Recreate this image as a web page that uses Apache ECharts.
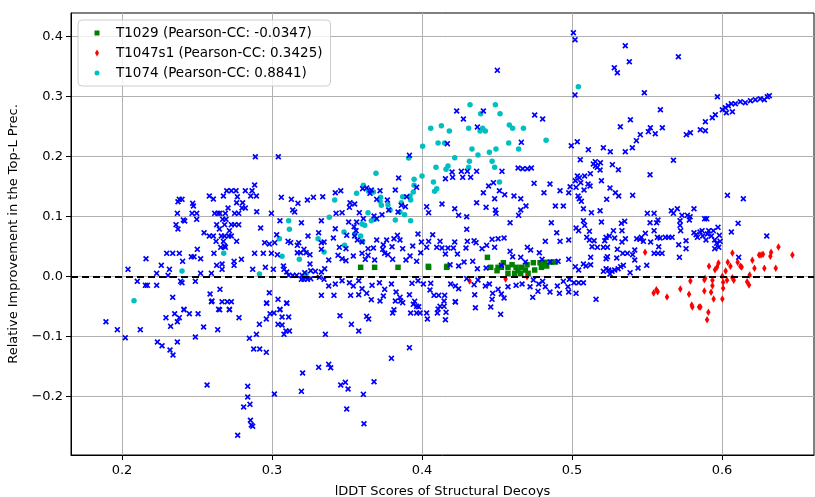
<!DOCTYPE html>
<html>
<head>
<meta charset="utf-8">
<script src="https://cdn.jsdelivr.net/npm/echarts@6/dist/echarts.min.js"></script>
<style>
  html, body { margin: 0; padding: 0; background: #fff; }
  #chart { width: 815px; height: 497px; }
</style>
</head>
<body>
<div id="chart"></div>
<script>
// tick labels
var xTicks = [0.2, 0.3, 0.4, 0.5, 0.6];
var yTicks = [-0.2, -0.1, 0.0, 0.1, 0.2, 0.3, 0.4];

var legendNames = [
  'T1029 (Pearson-CC: -0.0347)',
  'T1047s1 (Pearson-CC: 0.3425)',
  'T1074 (Pearson-CC: 0.8841)'
];

// all other decoys (blue crosses), [lDDT, relative improvement]
var otherDecoys = [
  [0.2884,0.1528],[0.2867,0.1433],[0.2896,0.1344],[0.2858,0.1344],[0.2698,0.1433],[0.2729,0.1433],[0.276,0.1433],
  [0.2822,0.1433],[0.2582,0.1344],[0.2609,0.1294],[0.2676,0.1344],[0.2769,0.1333],[0.2382,0.1289],[0.24,0.1289],
  [0.2373,0.125],[0.2471,0.1222],[0.2476,0.1178],[0.2764,0.1233],[0.2804,0.1233],[0.2707,0.1144],[0.28,0.1144],
  [0.2822,0.1144],[0.2898,0.1083],[0.2369,0.1056],[0.2467,0.1056],[0.2498,0.1056],[0.2618,0.1056],[0.264,0.1056],
  [0.2653,0.1056],[0.2689,0.1056],[0.2751,0.1056],[0.2778,0.1056],[0.2996,0.1056],[0.2409,0.0944],[0.2418,0.0928],
  [0.2498,0.0956],[0.2671,0.0956],[0.2693,0.0956],[0.2631,0.0867],[0.2684,0.0867],[0.2729,0.0867],[0.2751,0.0867],
  [0.2778,0.0867],[0.236,0.0867],[0.2373,0.0794],[0.2649,0.0794],[0.2716,0.0767],[0.2924,0.0811],[0.2547,0.0733],
  [0.2582,0.0678],[0.2609,0.0678],[0.2662,0.0678],[0.2684,0.0678],[0.2711,0.0678],[0.2729,0.0678],[0.2627,0.0589],
  [0.2676,0.0589],[0.2764,0.0589],[0.2684,0.0511],[0.2658,0.0489],[0.2689,0.0489],[0.2502,0.0456],[0.2298,0.0389],
  [0.2338,0.0389],[0.2382,0.0389],[0.2613,0.0389],[0.2884,0.0389],[0.2942,0.0389],[0.2996,0.0389],[0.2404,0.0256],
  [0.2462,0.0333],[0.248,0.0333],[0.2524,0.03],[0.216,0.03],[0.2262,0.0189],[0.204,0.0122],[0.2316,0.0122],
  [0.2631,0.0189],[0.2667,0.0211],[0.2747,0.0256],[0.2747,0.0189],[0.2796,0.0289],[0.2667,0.0122],[0.2871,0.0122],
  [0.2956,0.0156],[0.3009,0.0122],[0.2231,0.0056],[0.2307,0.0022],[0.2524,0.0056],[0.2596,0.0056],[0.2102,-0.0078],
  [0.2156,-0.0144],[0.2169,-0.0144],[0.2231,-0.0144],[0.2391,-0.0078],[0.24,-0.01],[0.2489,-0.0078],[0.2653,-0.0211],
  [0.2587,-0.0289],[0.2338,-0.0344],[0.2596,-0.0417],[0.2667,-0.0417],[0.2702,-0.0417],[0.2729,-0.0417],[0.2413,-0.0544],
  [0.2644,-0.0544],[0.2716,-0.0544],[0.2964,-0.0444],[0.2982,-0.0267],[0.304,-0.0378],[0.3053,-0.0544],[0.3098,-0.0444],
  [0.3062,0.1322],[0.3129,0.1289],[0.3173,0.1222],[0.3138,0.1111],[0.3151,0.1078],[0.3236,0.1278],[0.3276,0.1322],
  [0.3053,0.0933],[0.3196,0.09],[0.3329,0.0933],[0.3031,0.07],[0.3018,0.0567],[0.2951,0.0567],[0.2982,0.0544],
  [0.3107,0.0589],[0.3124,0.0567],[0.3178,0.0567],[0.324,0.0678],[0.3311,0.0733],[0.3329,0.0567],[0.3329,0.0456],
  [0.3169,0.0522],[0.3169,0.04],[0.3191,0.04],[0.3213,0.0456],[0.3227,0.04],[0.3253,0.0367],[0.3036,0.0367],
  [0.3076,0.0178],[0.308,0.0122],[0.3098,0.0078],[0.3111,0.0022],[0.3138,0.0022],[0.3164,0.0022],[0.32,0.0022],
  [0.3218,0.0067],[0.3258,0.01],[0.3253,0.0211],[0.3289,0.0089],[0.3329,0.0078],[0.3196,-0.0044],[0.3213,-0.0044],
  [0.3236,-0.0044],[0.3258,-0.0033],[0.3316,-0.0011],[0.2889,0.2],[0.3042,0.2],
  [0.1893,-0.075],[0.1969,-0.0883],[0.2022,-0.1017],[0.2122,-0.0883],[0.2236,-0.1089],[0.2267,-0.115],[0.232,-0.1222],
  [0.234,-0.1306],[0.2293,-0.0683],[0.2324,-0.0828],[0.2351,-0.0617],[0.2369,-0.075],[0.2382,-0.0683],[0.2413,-0.055],
  [0.2449,-0.0617],[0.2507,-0.0617],[0.2369,-0.1089],[0.2489,-0.1006],[0.2544,-0.0839],[0.2567,-0.1806],[0.26,-0.0406],
  [0.2638,-0.0883],[0.2651,-0.055],[0.2716,-0.055],[0.278,-0.0683],[0.2849,-0.1028],[0.2878,-0.1206],[0.2918,-0.1206],
  [0.2962,-0.1261],[0.2896,-0.0961],[0.2916,-0.0794],[0.2962,-0.0706],[0.2987,-0.0617],[0.3013,-0.0606],[0.304,-0.0794],
  [0.3053,-0.055],[0.3067,-0.0672],[0.3067,-0.0806],[0.3111,-0.0672],[0.308,-0.0961],[0.3093,-0.0906],[0.3116,-0.0906],
  [0.2964,-0.0439],[0.3098,-0.0439],[0.2838,-0.1828],[0.2838,-0.2006],[0.2853,-0.2128],[0.2811,-0.2172],[0.2856,-0.2394],
  [0.2862,-0.2472],[0.2871,-0.2494],[0.2771,-0.2644],[0.3016,-0.1956],[0.3196,-0.1911],[0.3204,-0.1606],[0.3311,-0.1511],
  [0.3356,-0.0961],[0.3453,-0.065],[0.3529,-0.0794],[0.3578,-0.0906],[0.3631,-0.0661],[0.3644,-0.0706],[0.3662,-0.0383],
  [0.372,-0.0406],[0.3804,-0.0606],[0.3813,-0.055],[0.3822,-0.0406],[0.3858,-0.0406],[0.3924,-0.0606],[0.3942,-0.0461],
  [0.3964,-0.0494],[0.3964,-0.0606],[0.3987,-0.0606],[0.4031,-0.0606],[0.4036,-0.0706],[0.4102,-0.0606],[0.4107,-0.0539],
  [0.412,-0.0494],[0.4147,-0.0494],[0.416,-0.0594],[0.4156,-0.0717],[0.4147,-0.0406],[0.4222,-0.0417],[0.4356,-0.0517],
  [0.4458,-0.0506],[0.4524,-0.0628],[0.3916,-0.1183],[0.3796,-0.1361],[0.3378,-0.1461],[0.3391,-0.1517],[0.3458,-0.1806],
  [0.3489,-0.1761],[0.3507,-0.1872],[0.368,-0.175],[0.3609,-0.1961],[0.3498,-0.2206],[0.3613,-0.245],
  [0.4502,0.3439],[0.4231,0.2761],[0.4409,0.2761],[0.4276,0.2628],[0.4369,0.2494],[0.4169,0.2217],[0.4662,0.2239],
  [0.4751,0.2694],[0.4804,0.2628],[0.3916,0.2022],
  [0.3844,0.1644],[0.3822,0.1444],[0.3964,0.1489],[0.4031,0.1167],[0.4044,0.1067],[0.4133,0.1211],[0.4156,0.1633],
  [0.42,0.1744],[0.4204,0.1656],[0.4262,0.1756],[0.4302,0.1756],[0.4364,0.1756],[0.4271,0.1656],[0.4324,0.1656],
  [0.4533,0.1756],[0.464,0.1811],[0.4671,0.18],[0.4702,0.18],[0.4729,0.1811],[0.4444,0.1511],[0.4476,0.1567],
  [0.4409,0.14],[0.4516,0.1433],[0.4364,0.1233],[0.4427,0.1156],[0.4484,0.13],[0.4489,0.1111],[0.4493,0.1056],
  [0.4218,0.1133],[0.4244,0.1022],[0.4298,0.1],[0.4298,0.0789],[0.4658,0.1111],[0.4644,0.1022],[0.4587,0.09],
  [0.4551,0.1367],[0.4613,0.1344],[0.4658,0.13],[0.4693,0.1178],[0.4747,0.1556],[0.4813,0.14],[0.4853,0.1544],
  [0.4889,0.1178],[0.492,0.1433],[0.4942,0.1178],[0.4978,0.14],[0.4987,0.15],[0.4862,0.09],[0.4898,0.0733],
  [0.492,0.0589],[0.4978,0.0611],[0.4822,0.0589],[0.4782,0.04],[0.4724,0.0444],[0.4702,0.0489],[0.4467,0.0622],
  [0.4507,0.0633],[0.4547,0.0644],[0.4587,0.0422],[0.4604,0.0333],[0.4658,0.0322],[0.4689,0.0244],[0.48,0.0289],
  [0.4853,0.0244],[0.4907,0.0256],[0.4978,0.0289],[0.44,0.0467],[0.4431,0.0522],[0.4484,0.0489],[0.4293,0.0478],
  [0.4347,0.06],[0.436,0.0567],[0.4302,0.0589],[0.4338,0.0256],[0.428,0.0244],[0.4369,0.0133],[0.4427,0.0144],
  [0.4529,0.0189],[0.4236,0.0378],[0.4244,0.0178],[0.4187,0.02],[0.4156,0.0378],[0.4173,0.0478],[0.4209,0.0478],
  [0.4218,0.0578],[0.4098,0.0489],[0.412,0.0589],[0.4133,0.0478],[0.4071,0.07],[0.4044,0.0589],[0.4031,0.0489],
  [0.3973,0.0711],[0.3996,0.0578],[0.3991,0.04],[0.3964,0.0256],[0.3938,0.0511],[0.392,0.0344],[0.3893,0.0278],
  [0.3871,0.0467],[0.3853,0.0611],[0.3813,0.0633],[0.3836,0.0689],[0.38,0.05],[0.3742,0.0533],[0.3764,0.0611],
  [0.3698,0.0611],[0.3738,0.0456],[0.3751,0.0389],[0.3773,0.0367],[0.3804,0.0289],[0.3676,0.0478],[0.364,0.0467],
  [0.364,0.0356],[0.36,0.0578],[0.3569,0.0611],[0.3551,0.0678],[0.3547,0.0833],[0.3564,0.0911],[0.356,0.0767],
  [0.3498,0.0689],[0.3493,0.0467],[0.3449,0.0489],[0.344,0.0356],[0.3409,0.0644],[0.3422,0.08],[0.3347,0.0578],
  [0.3351,0.0133],[0.3378,0.0278],[0.3467,0.03],[0.3493,0.0267],[0.3542,0.0344],[0.36,0.0389],[0.3622,0.0289],
  [0.3684,0.0278],[0.3511,0.0911],[0.3467,0.1067],[0.3427,0.1056],[0.3516,0.1156],[0.3422,0.14],[0.3458,0.1433],
  [0.3338,0.1333],[0.352,0.1233],[0.3551,0.1211],[0.3582,0.1067],[0.3609,0.0967],[0.368,0.1011],[0.3698,0.0967],
  [0.3733,0.1033],[0.3778,0.1111],[0.3862,0.1189],[0.3889,0.1167],[0.3898,0.1333],[0.384,0.1078],[0.3698,0.1289],
  [0.3769,0.1278],[0.3662,0.1444],[0.3631,0.1478],[0.3604,0.1467],[0.3653,0.1389],[0.372,0.1433],
  [0.3347,-0.0044],[0.3378,-0.0156],[0.3422,-0.0122],[0.3467,-0.0067],[0.3516,-0.01],[0.3542,-0.0156],[0.3578,-0.0067],
  [0.36,-0.02],[0.3631,-0.0278],[0.3667,-0.0144],[0.3716,-0.01],[0.3751,-0.0211],[0.3742,-0.0322],[0.3796,-0.0122],
  [0.3827,-0.0256],[0.3853,-0.0344],[0.3871,-0.0433],[0.3916,-0.03],[0.3951,-0.0411],[0.3978,-0.05],[0.3933,-0.0111],
  [0.3973,-0.0067],[0.4009,-0.0122],[0.4058,-0.0111],[0.4053,-0.0222],[0.408,-0.0311],[0.4111,-0.0311],[0.4151,-0.0311],
  [0.4191,-0.0122],[0.4222,-0.0156],[0.4222,-0.0422],[0.4244,-0.02],[0.4298,-0.0033],[0.4347,-0.0133],[0.4351,-0.03],
  [0.4373,-0.0056],[0.4422,-0.0156],[0.4449,-0.0122],[0.4471,-0.0278],[0.4467,-0.0378],[0.4507,-0.0211],[0.4529,-0.0289],
  [0.4547,-0.0356],[0.4573,-0.0167],[0.4627,-0.0144],[0.4667,-0.0122],[0.4742,-0.0056],[0.472,-0.0167],[0.4738,-0.0344],
  [0.4773,-0.0244],[0.4778,-0.0122],[0.4804,-0.0078],[0.4822,-0.0167],[0.4853,-0.0256],[0.4902,-0.0156],[0.4916,-0.0278],
  [0.4973,-0.0167],[0.4978,-0.0256],[0.4982,-0.0044],[0.4942,-0.0078],[0.3413,-0.0311],[0.3524,-0.0311],[0.3578,-0.03],
  [0.3329,-0.0311],
  [0.5142,0.1878],[0.5156,0.1844],[0.5169,0.1822],[0.5187,0.1778],[0.5036,0.1678],[0.5084,0.1678],[0.5022,0.16],
  [0.5058,0.1567],[0.5107,0.1544],[0.512,0.1511],[0.5027,0.1489],[0.508,0.1444],[0.5196,0.16],[0.5253,0.1478],
  [0.5289,0.14],[0.5311,0.1344],[0.5404,0.1356],[0.552,0.17],[0.504,0.1344],[0.5049,0.13],[0.5062,0.1256],
  [0.5231,0.1289],[0.5076,0.1133],[0.5129,0.1067],[0.5187,0.11],[0.5196,0.0911],[0.5076,0.0933],[0.5084,0.0856],
  [0.5027,0.0811],[0.5044,0.0767],[0.5116,0.0756],[0.5098,0.0656],[0.5116,0.0611],[0.5147,0.06],[0.5133,0.05],
  [0.5169,0.0489],[0.5209,0.0489],[0.5236,0.0489],[0.5227,0.0656],[0.5218,0.06],[0.5249,0.0678],[0.5276,0.0767],
  [0.5284,0.0644],[0.5329,0.0889],[0.5351,0.0922],[0.5333,0.0767],[0.5333,0.0578],[0.5356,0.0633],[0.5302,0.0456],
  [0.5298,0.0311],[0.5338,0.0389],[0.5369,0.0389],[0.5404,0.0367],[0.5418,0.0444],[0.5418,0.0278],[0.5453,0.0622],
  [0.5431,0.0633],[0.5462,0.0656],[0.5476,0.0589],[0.5489,0.0722],[0.5524,0.0578],[0.552,0.09],[0.5502,0.1056],
  [0.5547,0.1056],[0.5573,0.0944],[0.5564,0.09],[0.5547,0.0767],[0.5569,0.0656],[0.5587,0.0644],[0.5578,0.05],
  [0.56,0.0389],[0.5573,0.0389],[0.5547,0.0389],[0.5622,0.0656],[0.5644,0.0656],[0.5667,0.0656],[0.5662,0.11],
  [0.5676,0.1056],[0.5702,0.1133],[0.572,0.0933],[0.572,0.0856],[0.5724,0.0767],[0.5733,0.1022],[0.5769,0.1022],
  [0.5787,0.1],[0.5813,0.1133],[0.5782,0.0944],[0.576,0.06],[0.576,0.0467],[0.5711,0.0533],[0.5716,0.0322],
  [0.5813,0.0733],[0.5827,0.07],[0.5836,0.0656],[0.5853,0.0744],[0.5867,0.0767],[0.5884,0.0967],[0.5898,0.0967],
  [0.5911,0.0767],[0.5929,0.0678],[0.5973,0.0822],[0.5982,0.0689],[0.5951,0.0611],[0.5964,0.0556],[0.5987,0.0589],
  [0.5978,0.0489],[0.5951,0.0467],[0.5893,0.0611],[0.5871,0.0678],[0.5902,0.0711],[0.5942,0.0767],[0.6036,0.1356],
  [0.6142,0.13],[0.6107,0.0889],[0.6062,0.0744],[0.6298,0.0678],[0.6111,0.0322],[0.5076,0.0211],[0.5044,0.0111],
  [0.5022,0.0167],[0.5093,0.0178],[0.5124,0.0322],[0.5124,0.02],[0.5209,0.0089],[0.5227,0.0133],[0.5244,0.0111],
  [0.5267,0.0089],[0.5284,0.0111],[0.5307,0.0133],[0.5324,0.0167],[0.5342,0.0189],[0.5253,0.0044],[0.5387,0.0067],
  [0.544,0.0144],[0.5498,0.0189],[0.5013,-0.01],[0.5044,-0.01],[0.5076,-0.01],[0.5027,-0.0278],[0.516,-0.0378],
  [0.5227,0.03],[0.5236,0.0333],[0.5676,0.194],
  [0.5009,0.4067],[0.502,0.395],[0.5355,0.385],[0.5282,0.3483],[0.5302,0.34],[0.5382,0.3583],[0.5709,0.3667],
  [0.502,0.303],[0.5482,0.3067],[0.5522,0.2483],[0.5455,0.2367],[0.5429,0.2267],[0.5402,0.215],[0.5355,0.2083],
  [0.5589,0.2783],[0.5602,0.2483],[0.5555,0.2383],[0.5509,0.2417],[0.5762,0.2367],[0.5789,0.24],[0.5855,0.245],
  [0.5889,0.2583],[0.5935,0.265],[0.5955,0.27],[0.5969,0.3],[0.6002,0.2783],[0.6022,0.2817],[0.6042,0.285],
  [0.6062,0.2883],[0.6089,0.2883],[0.6122,0.2917],[0.6155,0.29],[0.6189,0.2933],[0.6222,0.295],[0.6255,0.2967],
  [0.6282,0.295],[0.6302,0.3],[0.6315,0.3017],[0.6029,0.2733],[0.6069,0.275],[0.5889,0.2433],[0.5389,0.2617],
  [0.5322,0.25],[0.5255,0.2083],[0.5189,0.19],[0.5155,0.1917],[0.5055,0.195],[0.5122,0.1717],[0.5309,0.1783],
  [0.5269,0.1867],[0.5035,0.225],[0.4995,0.2183],[0.5109,0.2117],[0.5209,0.215],[0.5049,0.165]
];

// T1029 (green squares)
var t1029 = [
  [0.3591,0.0156],[0.3684,0.0156],[0.384,0.0156],[0.4044,0.0156],[0.4164,0.0156],[0.4436,0.0322],[0.4458,0.0156],
  [0.4507,0.0156],[0.4529,0.0156],[0.4542,0.0233],[0.4573,0.0156],[0.4573,0.0056],[0.4618,0.0056],[0.4627,0.0156],
  [0.4658,0.0056],[0.4662,0.0156],[0.4689,0.0111],[0.4707,0.0056],[0.4742,0.0233],[0.4751,0.0111],[0.4787,0.0233],
  [0.4796,0.0156],[0.4831,0.0178],[0.4862,0.0244],[0.4889,0.0244],[0.4042,0.0172],[0.4167,0.0172],[0.45,0.01],
  [0.46,0.02],[0.47,0.02],[0.482,0.024],[0.464,0.01]
];

// T1047s1 (red diamonds)
var t1047s1 = [
  [0.4317,-0.007],[0.4557,-0.004],[0.470,0.0],
  [0.5487,0.0406],[0.5562,-0.0217],[0.5544,-0.0272],[0.5571,-0.025],[0.5633,-0.0339],[0.5722,-0.0206],[0.578,-0.0294],
  [0.5789,-0.0072],[0.5798,-0.0472],[0.5802,-0.0506],[0.5847,-0.0506],[0.5856,-0.0506],[0.5882,-0.0239],[0.5882,-0.005],
  [0.5887,-0.0028],[0.5909,-0.0594],[0.59,-0.0717],[0.5927,-0.0261],[0.5936,-0.015],[0.5936,-0.0061],[0.5944,-0.0372],
  [0.5953,0.0117],[0.5913,0.0172],[0.5967,0.0161],[0.5976,0.0228],[0.6002,-0.0372],[0.6007,-0.0194],[0.6007,-0.0094],
  [0.6002,0.0006],[0.6024,0.0094],[0.6038,0.0239],[0.6033,-0.0061],[0.6056,0.0172],[0.6069,0.0394],[0.6069,-0.0017],
  [0.6078,-0.0061],[0.6104,0.0239],[0.6122,0.0172],[0.6131,0.0161],[0.6167,-0.0083],[0.618,-0.0139],[0.6184,0.0028],
  [0.6202,0.0272],[0.6216,0.0139],[0.6247,0.0361],[0.626,0.0361],[0.6282,0.0139],[0.6273,0.0372],[0.6327,0.0406],
  [0.6322,0.0339],[0.6358,0.0139],[0.6376,0.0494],[0.6469,0.0361]
];

// T1074 (cyan dots)
var t1074 = [
  [0.432,0.2867],[0.4489,0.2867],[0.4391,0.2717],[0.452,0.2717],[0.4058,0.2472],[0.4129,0.2517],[0.4182,0.2428],
  [0.4311,0.2472],[0.4387,0.2428],[0.4404,0.2472],[0.4422,0.2428],[0.4582,0.2528],[0.4604,0.2472],[0.4676,0.2472],
  [0.4827,0.2272],[0.4004,0.2172],[0.4107,0.2228],[0.4151,0.2228],[0.4333,0.2128],[0.4373,0.2028],[0.4449,0.2072],
  [0.4493,0.2128],[0.4578,0.2228],[0.4644,0.2128],[0.4218,0.1983],[0.3911,0.1978],[0.5042,0.3167],
  [0.3693,0.1722],[0.3609,0.1522],[0.3564,0.1389],[0.3644,0.1422],[0.3676,0.1411],[0.3724,0.1322],[0.372,0.1256],
  [0.3729,0.1189],[0.3773,0.12],[0.3787,0.1111],[0.364,0.1067],[0.36,0.0878],[0.3618,0.0856],[0.3662,0.0933],
  [0.3684,0.0956],[0.3551,0.0711],[0.3591,0.0678],[0.348,0.0744],[0.3484,0.0522],[0.3604,0.0589],[0.3347,0.0411],
  [0.3418,0.1278],[0.3382,0.0989],[0.3822,0.0944],[0.3862,0.1233],[0.3853,0.1078],[0.3871,0.1333],[0.392,0.1344],
  [0.3924,0.1278],[0.3942,0.1411],[0.3947,0.1522],[0.3947,0.1622],[0.4,0.1678],[0.4076,0.1578],[0.4098,0.1467],
  [0.4084,0.1422],[0.4093,0.1822],[0.416,0.1789],[0.4173,0.1844],[0.4311,0.1822],[0.4316,0.1922],[0.4467,0.1922],
  [0.4484,0.1822],[0.4516,0.1578],[0.3924,0.0933],[0.3884,0.1033],
  [0.3111,0.0933],[0.3116,0.0789],[0.3049,0.0633],[0.3067,0.0339],[0.3182,0.0289],[0.3307,0.0633],[0.2678,0.0389],
  [0.24,0.0094],[0.2916,0.0044],[0.3227,0.0044],[0.208,-0.04]
];

var myChart = echarts.init(document.getElementById('chart'));

var fontFam = 'DejaVu Sans';
var crossPath = 'path://M0,2L2,0L5,3L8,0L10,2L7,5L10,8L8,10L5,7L2,10L0,8L3,5Z';

var option = {
  animation: false,
  textStyle: { fontFamily: fontFam },
  grid: {
    left: 71, right: 1, top: 13, bottom: 42,
    outerBoundsMode: 'none',
    containLabel: false,
    show: true, borderColor: '#000', borderWidth: 1, backgroundColor: 'transparent'
  },
  legend: {
    orient: 'vertical',
    left: 78, top: 20,
    padding: [6, 8, 6, 16.5],
    itemWidth: 5, itemHeight: 7, itemGap: 6,
    symbolKeepAspect: true,
    backgroundColor: 'rgba(255,255,255,0.8)',
    borderColor: '#cccccc', borderWidth: 1, borderRadius: 4,
    textStyle: { fontFamily: fontFam, fontSize: 13.5, color: '#000', lineHeight: 14, padding: [0, 0, 0, 11.5] },
    data: [
      { name: legendNames[0], icon: 'path://M0,0H5V5H0Z' },
      { name: legendNames[1], icon: 'path://M2,0L4,3.5L2,7L0,3.5Z' },
      { name: legendNames[2], icon: 'circle' }
    ]
  },
  xAxis: {
    type: 'value',
    min: 0.166, max: 0.6613,
    name: 'lDDT Scores of Structural Decoys',
    nameLocation: 'middle', nameGap: 30,
    nameTextStyle: { fontFamily: fontFam, fontSize: 13, color: '#000' },
    axisLine: { show: true, onZero: false, lineStyle: { color: '#000', width: 1 } },
    axisTick: { show: true, length: 5, lineStyle: { color: '#000' }, customValues: xTicks },
    axisLabel: {
      color: '#000', fontSize: 13, fontFamily: fontFam, margin: 9,
      customValues: xTicks,
      formatter: function (v) { return v.toFixed(1); }
    },
    splitLine: { show: true, lineStyle: { color: '#b0b0b0', width: 1 } }
  },
  yAxis: {
    type: 'value',
    min: -0.2972, max: 0.4395,
    name: 'Relative Improvement in the Top-L Prec.',
    nameLocation: 'middle', nameGap: 48,
    nameTextStyle: { fontFamily: fontFam, fontSize: 13, color: '#000' },
    axisLine: { show: true, onZero: false, lineStyle: { color: '#000', width: 1 } },
    axisTick: { show: true, length: 5, lineStyle: { color: '#000' }, customValues: yTicks },
    axisLabel: {
      color: '#000', fontSize: 13, fontFamily: fontFam, margin: 8,
      customValues: yTicks,
      formatter: function (v) { return (v < 0 ? '\u2212' : '') + Math.abs(v).toFixed(1); }
    },
    splitLine: { show: true, lineStyle: { color: '#b0b0b0', width: 1 } }
  },
  series: [
    {
      name: legendNames[0], type: 'scatter', data: t1029,
      symbol: 'rect', symbolSize: 5.5,
      itemStyle: { color: '#008000', opacity: 1 }
    },
    {
      name: legendNames[1], type: 'scatter', data: t1047s1,
      symbol: 'diamond', symbolSize: [4.5, 7.5],
      itemStyle: { color: '#ff0000', opacity: 1 }
    },
    {
      name: legendNames[2], type: 'scatter', data: t1074,
      symbol: 'circle', symbolSize: 5.5,
      itemStyle: { color: '#00bfbf', opacity: 1 }
    },
    {
      name: 'other', type: 'scatter', data: otherDecoys,
      symbol: crossPath, symbolSize: 6,
      itemStyle: { color: '#0000ff', opacity: 1 },
      markLine: {
        silent: true, symbol: ['none', 'none'], label: { show: false },
        lineStyle: { color: '#000', type: [7, 4], width: 2 },
        data: [{ yAxis: 0 }]
      }
    }
  ]
};

myChart.setOption(option, true);
</script>
</body>
</html>
